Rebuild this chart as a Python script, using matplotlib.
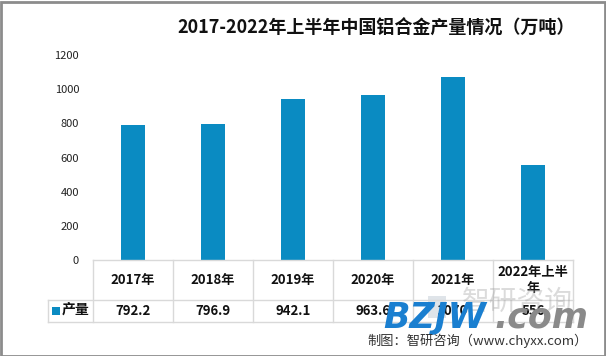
import matplotlib
matplotlib.use("Agg")
import matplotlib.pyplot as plt
from matplotlib.lines import Line2D
from matplotlib.patches import Rectangle
from matplotlib.transforms import blended_transform_factory

plt.rcParams['font.family'] = ['Noto Sans CJK SC', 'DejaVu Sans']

title = "2017-2022年上半年中国铝合金产量情况（万吨）"
categories = ["2017年", "2018年", "2019年", "2020年", "2021年", "2022年上半\n年"]
values = [792.2, 796.9, 942.1, 963.6, 1070.0, 556.0]
value_labels = ["792.2", "796.9", "942.1", "963.6", "1070", "556"]
series_name = "产量"
yticks = [0, 200, 400, 600, 800, 1000, 1200]
source = "制图：智研咨询（www.chyxx.com）"

W, H = 606, 356
BAR = '#0A8BC2'
GRID = '#D9D9D9'

fig = plt.figure(figsize=(W / 100, H / 100), dpi=100)
fig.patch.set_facecolor('white')

def fx(px):
    return px / W

def fy(py):
    return 1 - py / H

ax_l, ax_r, ax_t, ax_b = 93, 573, 55, 260
ax = fig.add_axes([fx(ax_l), fy(ax_b), (ax_r - ax_l) / W, (ax_b - ax_t) / H])
x = list(range(len(categories)))
ax.bar(x, values, width=0.31, color=BAR, zorder=2)
ax.set_xlim(-0.5, len(categories) - 0.5)
ax.set_ylim(0, 1200)
ax.set_yticks(yticks)
ax.set_yticklabels([str(t) for t in yticks], fontsize=8, color='#222222')
ax.tick_params(axis='y', length=0, pad=10)
ax.set_xticks([])
for s in ax.spines.values():
    s.set_visible(False)

# table drawn below the axes (x in data units, y in figure pixels)
tr = blended_transform_factory(ax.transData, fig.transFigure)
px_per_unit = (ax_r - ax_l) / len(categories)
def dx(px):
    return -0.5 + (px - ax_l) / px_per_unit

y_top, y_mid, y_bot = 260, 300, 322
n = len(categories)
fig.add_artist(Line2D([-0.5, n - 0.5], [fy(y_top), fy(y_top)], transform=tr, color=GRID, lw=1))
for yy in (y_mid, y_bot):
    fig.add_artist(Line2D([dx(48), n - 0.5], [fy(yy), fy(yy)], transform=tr, color=GRID, lw=1))
for k in range(n + 1):
    fig.add_artist(Line2D([k - 0.5, k - 0.5], [fy(y_top), fy(y_bot)], transform=tr, color=GRID, lw=1))
fig.add_artist(Line2D([dx(48), dx(48)], [fy(y_mid), fy(y_bot)], transform=tr, color=GRID, lw=1))

for i, (c, v) in enumerate(zip(categories, value_labels)):
    fig.text(i, fy(280), c, transform=tr, ha='center', va='center', fontsize=9.5,
             fontweight='bold', color='#111111', linespacing=1.1)
    fig.text(i, fy(311), v, transform=tr, ha='center', va='center', fontsize=9.5,
             fontweight='bold', color='#111111')

# legend cell
fig.add_artist(Rectangle((fx(52), fy(315)), 8 / W, 8 / H, transform=fig.transFigure,
                         color=BAR, lw=0))
fig.text(fx(62), fy(310), series_name, ha='left', va='center', fontsize=10,
         fontweight='bold', color='#111111')

# title
fig.text(fx(376), fy(28), title, ha='center', va='center', fontsize=13,
         fontweight='bold', color='#111111')

# watermark
fig.add_artist(Rectangle((fx(428), fy(318)), 18 / W, 22 / H, transform=fig.transFigure,
                         color='#B8C4D0', alpha=0.45, lw=0))
fig.text(fx(462), fy(302), "智研咨询", ha='left', va='center', fontsize=20,
         color='#9A9A9A', alpha=0.35)
fig.text(fx(383), fy(318), "BZJW", ha='left', va='center', fontsize=25,
         fontweight='heavy', style='italic', color='#1A7FD0', family='DejaVu Sans')
fig.text(fx(494), fy(318), ".com", ha='left', va='center', fontsize=25,
         fontweight='heavy', style='italic', color='#8A8A8A', family='DejaVu Sans')

# source
fig.text(fx(588), fy(341), source, ha='right', va='center', fontsize=9.5, color='#333333')

# outer border
fig.add_artist(Rectangle((0.5 / W, 0.5 / H), (W - 2) / W, (H - 2) / H,
                         transform=fig.transFigure, fill=False, edgecolor='#8C8C8C', lw=2))

fig.savefig("out.png", dpi=100)
